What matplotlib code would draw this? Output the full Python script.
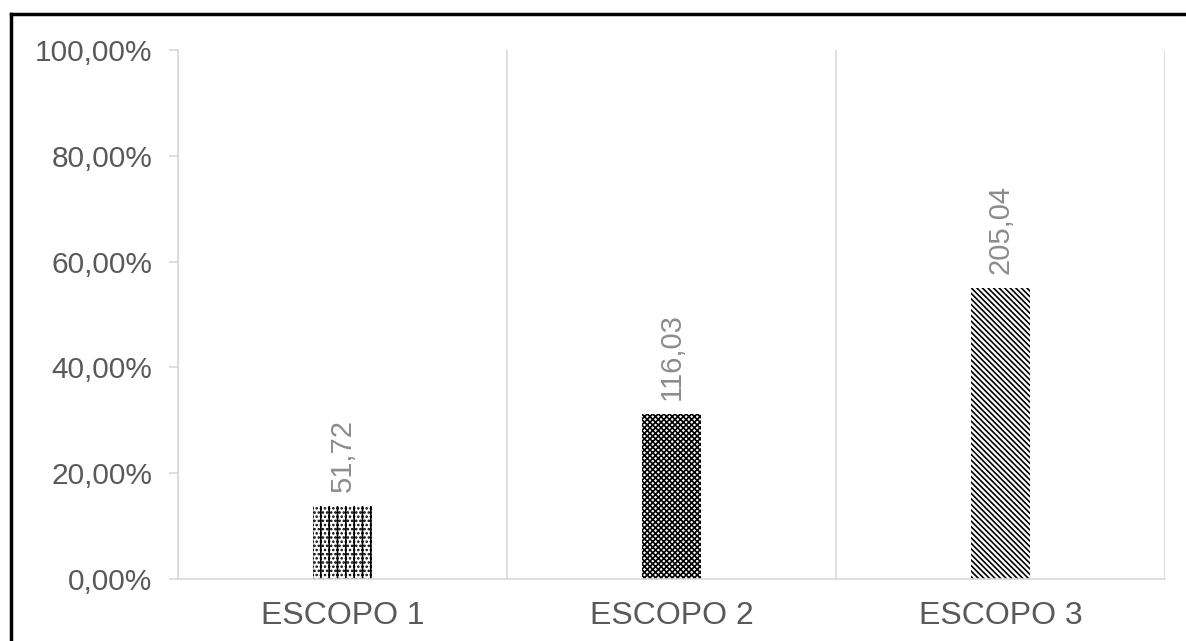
import matplotlib
matplotlib.use("Agg")
import matplotlib.pyplot as plt
from matplotlib.lines import Line2D
from matplotlib.ticker import FuncFormatter, FixedLocator

# dados
categorias = ["ESCOPO 1", "ESCOPO 2", "ESCOPO 3"]
emissoes = [51.72, 116.03, 205.04]
rotulos = ["51,72", "116,03", "205,04"]
hachuras = ["||....", "xxxxxx", "\\\\\\\\\\\\"]

total = sum(emissoes)
percentuais = [v / total * 100 for v in emissoes]

plt.rcParams["font.family"] = ["Liberation Sans", "DejaVu Sans"]
plt.rcParams["hatch.linewidth"] = 1.2

fig = plt.figure(figsize=(11.86, 6.41), dpi=100)
ax = fig.add_axes([178 / 1186, 1 - 579 / 641, (1165 - 178) / 1186, (579 - 50) / 641])

x = range(len(categorias))
barras = ax.bar(x, percentuais, width=0.18, color="white", edgecolor="black", linewidth=0)
for b, h in zip(barras, hachuras):
    b.set_hatch(h)

for b, r in zip(barras, rotulos):
    ax.annotate(r, (b.get_x() + b.get_width() / 2, b.get_height()),
                xytext=(0, 10), textcoords="offset points", rotation=90,
                ha="center", va="bottom", fontsize=21, color="#8c8c8c")

ax.set_xlim(-0.5, 2.5)
ax.set_ylim(0, 100)
ax.set_yticks([0, 20, 40, 60, 80, 100])
ax.yaxis.set_major_formatter(FuncFormatter(lambda v, p: f"{v:.2f}%".replace(".", ",")))
ax.set_xticks(list(x))
ax.set_xticklabels(categorias)

# linhas de divisao entre categorias
ax.xaxis.set_minor_locator(FixedLocator([-0.5, 0.5, 1.5, 2.5]))
ax.grid(which="minor", axis="x", color="#d9d9d9", linewidth=1.2)
ax.set_axisbelow(True)

for s in ["top", "right"]:
    ax.spines[s].set_visible(False)
ax.spines["left"].set_color("#d9d9d9")
ax.spines["bottom"].set_color("#d9d9d9")
ax.spines["left"].set_linewidth(1.2)
ax.spines["bottom"].set_linewidth(1.2)

ax.tick_params(axis="y", length=6.5, width=1.2, color="#d9d9d9", pad=12,
               labelsize=21.5, labelcolor="#595959")
ax.tick_params(axis="x", which="both", length=0, pad=16, labelsize=23, labelcolor="#595959")

# moldura preta
fig.add_artist(Line2D([11 / 1186, 11 / 1186], [0, 1 - 14 / 641], transform=fig.transFigure,
                      color="black", linewidth=2.5))
fig.add_artist(Line2D([11 / 1186, 1], [1 - 14 / 641, 1 - 14 / 641], transform=fig.transFigure,
                      color="black", linewidth=2.5))

fig.savefig("out.png", dpi=100)
